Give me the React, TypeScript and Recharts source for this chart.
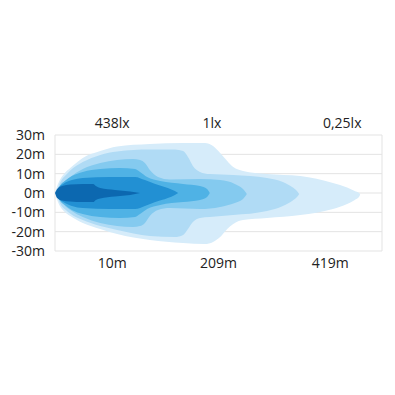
import React from "react";
import { ComposedChart, Area, XAxis, YAxis, CartesianGrid, Line } from "recharts";

// Horizontal position units: 0..6 across the plot; vertical values in metres
const yTicks = [-30, -20, -10, 0, 10, 20, 30];
const gridX = [0, 2, 3, 4, 6];
const bottomTickPos = [1.05, 3.0, 5.05];
const bottomLabels = ["10m", "209m", "419m"];
const topTickPos = [1.05, 2.88, 5.27];
const topLabels = ["438lx", "1lx", "0,25lx"];

// Iso-lux contours: [position, lower edge (m), upper edge (m)]
const level1 = [
  [0, 0, 0], [0.04, -3.6, 3.6], [0.09, -6.7, 6.7], [0.18, -9.8, 10.3], [0.28, -11.9, 12.9],
  [0.51, -15.5, 18.1], [0.83, -18.6, 21.7], [1.14, -21.2, 24.1], [1.74, -24.3, 25.3],
  [2.35, -25.9, 25.9], [2.75, -26.4, 25.9], [2.9, -25.3, 24.3], [3.03, -22.8, 20.7],
  [3.16, -18.6, 16.6], [3.27, -16.0, 13.4], [3.45, -14.0, 11.4], [3.89, -12.9, 9.8],
  [4.5, -11.4, 8.8], [5.1, -8.3, 5.2], [5.36, -5.7, 2.8], [5.5, -3.6, 1.0], [5.58, -2.0, 0.0],
  [5.6, -0.8, -0.8],
];
const level2 = [
  [0.02, 0, 0], [0.06, -3.1, 3.1], [0.11, -6.2, 6.2], [0.2, -8.8, 9.3], [0.29, -10.9, 11.9],
  [0.51, -14.0, 16.0], [0.83, -17.1, 19.7], [1.14, -19.1, 21.5], [1.74, -22.2, 22.5],
  [2.2, -22.8, 22.5], [2.35, -21.7, 21.7], [2.44, -18.6, 18.6], [2.53, -15.0, 14.0],
  [2.66, -12.9, 10.9], [2.84, -12.4, 9.8], [3.27, -11.4, 9.3], [3.89, -9.3, 7.8],
  [4.18, -6.7, 5.7], [4.35, -4.1, 3.1], [4.44, -2.1, 1.0], [4.48, -0.5, -0.5],
];
const level3 = [
  [0.04, 0, 0], [0.07, -3.1, 2.6], [0.13, -5.2, 4.7], [0.28, -8.8, 8.3], [0.51, -12.4, 12.4],
  [0.83, -15.5, 15.5], [1.14, -17.1, 17.1], [1.43, -17.6, 17.6], [1.56, -17.1, 17.1],
  [1.65, -15.5, 15.5], [1.74, -11.9, 11.9], [1.89, -8.8, 8.3], [2.11, -7.8, 7.0],
  [2.66, -8.3, 7.2], [3.03, -7.2, 6.7], [3.3, -5.2, 4.7], [3.45, -3.1, 2.1], [3.52, -0.5, -0.5],
];
const level4 = [
  [0.04, 0, 0], [0.09, -3.6, 3.6], [0.18, -6.2, 6.2], [0.31, -8.8, 8.8], [0.51, -10.9, 10.9],
  [0.83, -12.4, 12.4], [1.19, -12.9, 12.9], [1.47, -12.4, 12.4], [1.56, -10.9, 10.9],
  [1.69, -8.3, 8.3], [1.93, -6.2, 6.2], [2.35, -4.7, 4.7], [2.66, -3.6, 3.6],
  [2.79, -2.1, 2.1], [2.84, 0, 0],
];
const level5 = [
  [0.02, 0, 0], [0.06, -2.6, 2.6], [0.15, -4.7, 4.7], [0.31, -6.7, 6.7], [0.51, -7.8, 7.8],
  [1.01, -8.3, 8.3], [1.47, -8.3, 8.3], [1.65, -6.7, 6.7], [1.84, -4.7, 4.7],
  [2.07, -2.6, 2.6], [2.2, -1.0, 1.0], [2.26, 0, 0],
];
const level6 = [
  [0, 0, 0], [0.04, -2.6, 2.1], [0.13, -3.9, 3.6], [0.28, -4.4, 4.4], [0.51, -4.7, 4.7],
  [0.7, -4.7, 4.7], [0.75, -3.6, 3.6], [0.83, -2.8, 2.6], [1.1, -1.8, 1.6],
  [1.38, -1.0, 0.8], [1.56, 0, 0],
];

const levels = [level1, level2, level3, level4, level5, level6];
const levelColors = ["#d6ecfa", "#b0dbf5", "#84caef", "#4fb2e5", "#2290d3", "#0c68b0"];

const toRows = (lv: number[][]) => lv.map(([u, lo, hi]) => ({ u, r: [lo, hi] }));
const topRows = topTickPos.map((u) => ({ u, v: 0 }));

const font = { fontFamily: "'Open Sans', sans-serif", fontSize: 14, fill: "#222" };

export default function App() {
  return (
    <div style={{ position: "absolute", left: 0, top: 0, background: "#fff" }}>
      <ComposedChart width={395} height={395} margin={{ top: 105, right: 13, bottom: 114, left: 0 }}>
        <CartesianGrid xAxisId="grid" stroke="#e3e3e3" strokeWidth={1} />
        <XAxis xAxisId="grid" type="number" dataKey="u" domain={[0, 6]} ticks={gridX} hide />
        <XAxis
          type="number"
          dataKey="u"
          domain={[0, 6]}
          ticks={bottomTickPos}
          tickFormatter={(v: number) => bottomLabels[bottomTickPos.indexOf(v)]}
          axisLine={false}
          tickLine={false}
          tickMargin={1}
          height={30}
          tick={font}
          interval={0}
        />
        <XAxis
          xAxisId="top"
          orientation="top"
          type="number"
          dataKey="u"
          domain={[0, 6]}
          ticks={topTickPos}
          tickFormatter={(v: number) => topLabels[topTickPos.indexOf(v)]}
          axisLine={false}
          tickLine={false}
          tickMargin={1}
          height={30}
          tick={font}
          interval={0}
        />
        <YAxis
          type="number"
          domain={[-30, 30]}
          ticks={yTicks}
          tickFormatter={(v: number) => `${v}m`}
          axisLine={false}
          tickLine={false}
          tickMargin={4}
          width={55}
          tick={font}
          interval={0}
        />
        {levels.map((lv, i) => (
          <Area
            key={i}
            data={toRows(lv)}
            dataKey="r"
            type="monotone"
            stroke="none"
            fill={levelColors[i]}
            fillOpacity={1}
            isAnimationActive={false}
            dot={false}
            activeDot={false}
          />
        ))}
        <Line
          xAxisId="top"
          data={topRows}
          dataKey="v"
          stroke="none"
          dot={false}
          activeDot={false}
          isAnimationActive={false}
        />
      </ComposedChart>
    </div>
  );
}
